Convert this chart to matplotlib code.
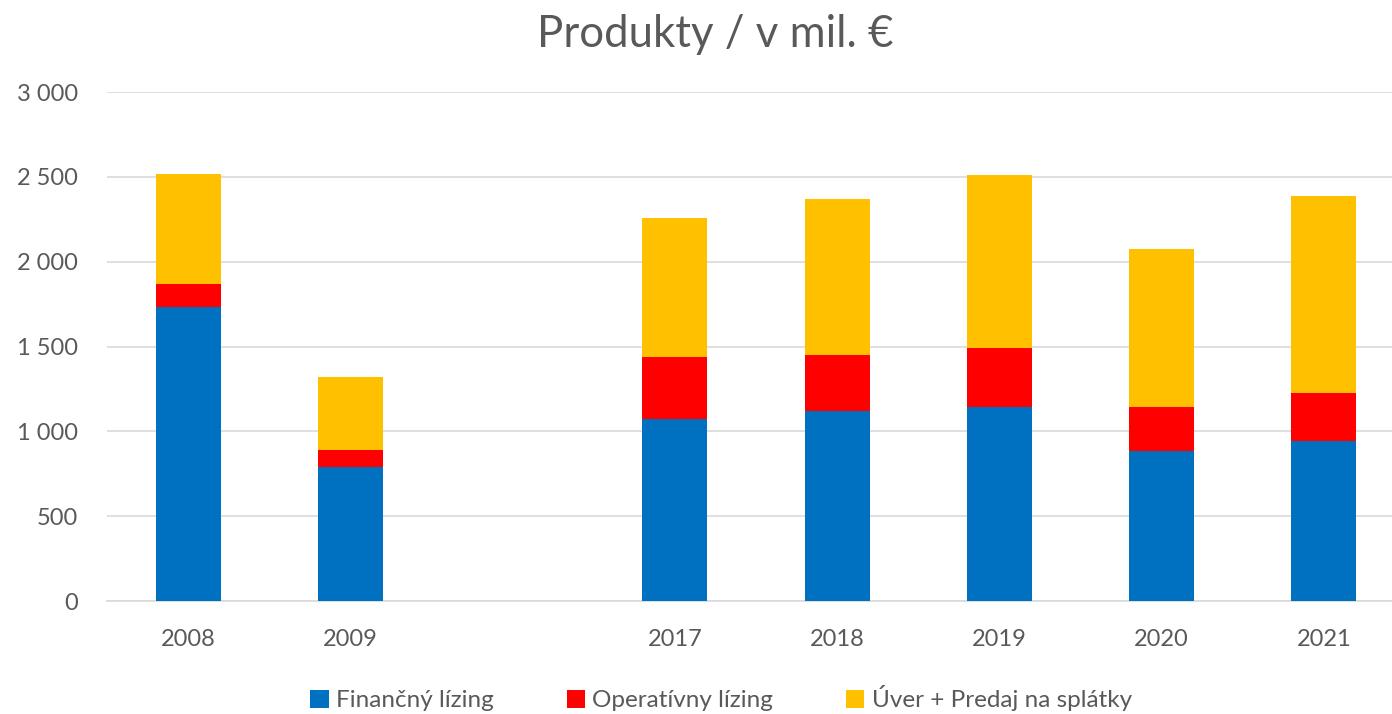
import matplotlib
matplotlib.use("Agg")
import matplotlib.pyplot as plt
import numpy as np

categories = ["2008", "2009", "", "2017", "2018", "2019", "2020", "2021"]
financny = [1732, 790, 0, 1072, 1120, 1143, 884, 943]
operativny = [136, 100, 0, 366, 330, 348, 259, 283]
uver = [648, 430, 0, 819, 919, 1019, 931, 1161]
series_names = ["Finančný lízing", "Operatívny lízing", "Úver + Predaj na splátky"]
colors = ["#0070C0", "#FF0000", "#FFC000"]
yticks = [0, 500, 1000, 1500, 2000, 2500, 3000]
ytick_labels = ["0", "500", "1 000", "1 500", "2 000", "2 500", "3 000"]

plt.rcParams['font.family'] = ['Lato', 'DejaVu Sans']
text_color = "#595959"

fig = plt.figure(figsize=(13.92, 7.14), dpi=100)
ax = fig.add_axes([107 / 1392, 0.158, 1298 / 1392, 0.713])

x = np.arange(len(categories))
w = 0.4
fin = np.array(financny)
op = np.array(operativny)
uv = np.array(uver)
ax.bar(x, fin, w, color=colors[0], label=series_names[0], zorder=3)
ax.bar(x, op, w, bottom=fin, color=colors[1], label=series_names[1], zorder=3)
ax.bar(x, uv, w, bottom=fin + op, color=colors[2], label=series_names[2], zorder=3)

ax.set_xlim(-0.5, len(categories) - 0.5)
ax.set_ylim(0, 3000)
ax.set_yticks(yticks)
ax.set_yticklabels(ytick_labels)
ax.set_xticks(x)
ax.set_xticklabels(categories)
ax.tick_params(axis='both', length=0, labelsize=17, colors=text_color)
ax.tick_params(axis='x', pad=20)
ax.tick_params(axis='y', pad=21)

ax.grid(axis='y', color="#D9D9D9", linewidth=1.2, zorder=0)
for s in ["top", "right", "left"]:
    ax.spines[s].set_visible(False)
ax.spines["bottom"].set_color("#D9D9D9")
ax.spines["bottom"].set_linewidth(1.2)

fig.text(0.514, 0.952, "Produkty / v mil. €", ha='center', va='center',
         fontsize=31.5, color=text_color)

leg = fig.legend(loc='center', bbox_to_anchor=(0.518, 0.022),
                 ncol=3, frameon=False,
                 fontsize=17.5, handlelength=0.75, handleheight=0.75, handletextpad=0.3,
                 columnspacing=3.0)
for t in leg.get_texts():
    t.set_color(text_color)

fig.savefig("out.png", dpi=100)
